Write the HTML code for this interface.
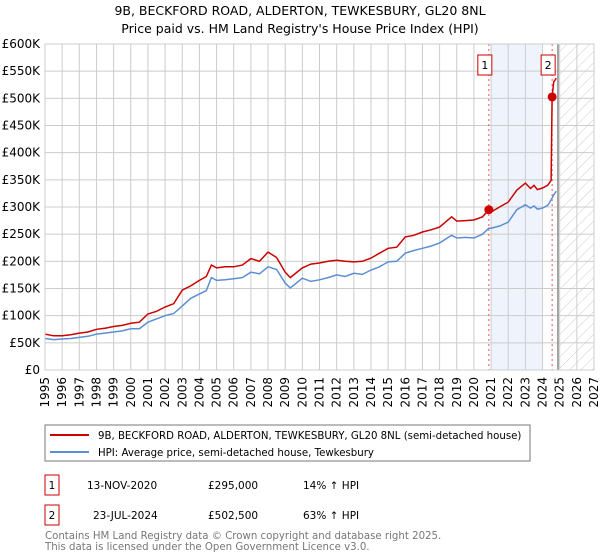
<!DOCTYPE html>
<html><head><meta charset="utf-8">
<style>
body{margin:0;background:#fff;font-family:"DejaVu Sans","Liberation Sans",sans-serif;}
#wrap{position:relative;width:600px;height:560px;overflow:hidden;}
svg text{font-family:"DejaVu Sans","Liberation Sans",sans-serif;}
</style></head>
<body><div id="wrap">
<svg id="chart" width="600" height="560">
<defs><pattern id="hatch" width="8" height="8" patternUnits="userSpaceOnUse" patternTransform="rotate(45)"><line x1="0" y1="0" x2="0" y2="8" stroke="#ccc" stroke-width="1"/></pattern></defs>
<text x="300" y="15" text-anchor="middle" font-size="12.5">9B, BECKFORD ROAD, ALDERTON, TEWKESBURY, GL20 8NL</text>
<text x="300" y="33" text-anchor="middle" font-size="12.5">Price paid vs. HM Land Registry's House Price Index (HPI)</text>
<g id="grid"></g><g id="plot"></g><g id="axes"></g>
<rect x="45" y="425" width="485" height="36" fill="#fff" stroke="#777"/>
<line x1="50" y1="435" x2="89" y2="435" stroke="#cc0000" stroke-width="2"/>
<text x="98" y="439" font-size="10.2">9B, BECKFORD ROAD, ALDERTON, TEWKESBURY, GL20 8NL (semi-detached house)</text>
<line x1="50" y1="452" x2="89" y2="452" stroke="#5b8fd4" stroke-width="2"/>
<text x="98" y="456" font-size="10.2">HPI: Average price, semi-detached house, Tewkesbury</text>
<g>
<rect x="45" y="475" width="14" height="20" fill="none" stroke="#cc0000"/><text x="52" y="489" text-anchor="middle" font-size="10.5">1</text>
<text x="87" y="489" font-size="10.5">13-NOV-2020</text><text x="208" y="489" font-size="10.5">£295,000</text><text x="303" y="489" font-size="10.5">14% ↑ HPI</text></g>
<g>
<rect x="45" y="505" width="14" height="20" fill="none" stroke="#cc0000"/><text x="52" y="519" text-anchor="middle" font-size="10.5">2</text>
<text x="93" y="519" font-size="10.5">23-JUL-2024</text><text x="208" y="519" font-size="10.5">£502,500</text><text x="303" y="519" font-size="10.5">63% ↑ HPI</text></g>
<text x="45" y="539" font-size="10.2" fill="#777">Contains HM Land Registry data © Crown copyright and database right 2025.</text>
<text x="45" y="550" font-size="10.2" fill="#777">This data is licensed under the Open Government Licence v3.0.</text>
</svg>
<script>
const years=[1995,1995.5,1996,1996.5,1997,1997.5,1998,1998.5,1999,1999.5,2000,2000.5,2001,2001.5,2002,2002.5,2003,2003.5,2004,2004.4,2004.7,2005,2005.5,2006,2006.5,2007,2007.5,2008,2008.5,2009,2009.3,2010,2010.5,2011,2011.5,2012,2012.5,2013,2013.5,2014,2014.5,2015,2015.5,2016,2016.5,2017,2017.5,2018,2018.7,2019,2019.5,2020,2020.5,2020.87,2021,2021.5,2022,2022.5,2023,2023.3,2023.5,2023.7,2024,2024.3,2024.5];
const hpi=[58,56,57,58,60,62,66,68,70,72,76,76,88,94,100,104,118,132,140,146,170,165,166,168,170,180,177,190,185,160,151,169,163,166,170,175,172,178,176,184,190,199,200,215,220,224,228,234,248,243,244,243,250,261,261,265,272,295,304,298,302,296,298,303,313];
const red=[66,63,63,65,68,70,75,77,80,82,86,88,103,108,116,122,147,155,165,172,193,188,190,190,193,205,200,217,207,180,170,188,195,197,200,202,200,199,200,206,215,224,226,245,248,254,258,263,282,274,275,276,282,295,291,300,309,331,344,334,340,332,335,340,349];
const saleYears=[2020.87,2024.56];
const saleValues=[295,502.5];
const redTailYears=[2024.56,2024.65,2024.8];
const redTailValues=[502.5,530,537];
const hpiTailYears=[2024.5,2024.65,2024.8];
const hpiTailValues=[313,322,329];
const yTicks=[0,50,100,150,200,250,300,350,400,450,500,550,600];
const yTickLabels=["£0","£50K","£100K","£150K","£200K","£250K","£300K","£350K","£400K","£450K","£500K","£550K","£600K"];
const xTicks=[1995,1996,1997,1998,1999,2000,2001,2002,2003,2004,2005,2006,2007,2008,2009,2010,2011,2012,2013,2014,2015,2016,2017,2018,2019,2020,2021,2022,2023,2024,2025,2026,2027];

const X0=45,X1=594,Y0=370,Y1=44;
const xs=y=>X0+(y-1995)/(2027-1995)*(X1-X0);
const ys=v=>Y0-v/600*(Y0-Y1);
const NS="http://www.w3.org/2000/svg";
function mk(tag,attrs,parent){const e=document.createElementNS(NS,tag);for(const k in attrs)e.setAttribute(k,attrs[k]);parent.appendChild(e);return e;}
const grid=document.getElementById('grid'),plot=document.getElementById('plot'),axes=document.getElementById('axes');
let sh=mk('rect',{x:xs(2021),y:Y1,width:xs(2024)-xs(2021),height:Y0-Y1,fill:'#eef3fc'},grid);


let ht=mk('rect',{x:xs(2025),y:Y1,width:X1-xs(2025),height:Y0-Y1,fill:'url(#hatch)'},grid);


yTicks.forEach((v,i)=>{
  let l=mk('line',{x1:X0,x2:X1,y1:ys(v),y2:ys(v),stroke:'#ccc'},grid);
  
  
  let t=mk('text',{x:40,y:ys(v)+4,'text-anchor':'end','font-size':'12'},axes);
  t.textContent=yTickLabels[i];
  
  
});
xTicks.forEach(y=>{
  let l=mk('line',{x1:xs(y),x2:xs(y),y1:Y1,y2:Y0,stroke:'#ccc'},grid);
  
  
  let t=mk('text',{x:0,y:0,'text-anchor':'end','font-size':'12',transform:`translate(${xs(y)+4},377) rotate(-90)`},axes);
  t.textContent=y;
  
  
});
let nl=mk('line',{x1:xs(2024.9),x2:xs(2024.9),y1:Y1,y2:Y0,stroke:'#888','stroke-width':1.5},grid);


saleYears.forEach((y,i)=>{
  let l=mk('line',{x1:xs(y),x2:xs(y),y1:Y1,y2:Y0,stroke:'#e55','stroke-dasharray':'2,3'},grid);
  
  
});
function path(xa,va,color,name){
  let d=xa.map((y,i)=>(i?'L':'M')+xs(y).toFixed(1)+','+ys(va[i]).toFixed(1)).join('');
  let p=mk('path',{d:d,fill:'none',stroke:color,'stroke-width':1.5},plot);
  
  
}
path(years.concat(hpiTailYears.slice(1)),hpi.concat(hpiTailValues.slice(1)),'#5b8fd4','hpi-line');
path(years.concat(redTailYears),red.concat(redTailValues),'#cc0000','property-line');
saleYears.forEach((y,i)=>{
  let c=mk('circle',{cx:xs(y),cy:ys(saleValues[i]),r:4.5,fill:'#cc0000'},plot);
  
  
  let g=mk('g',{},plot);
  
  
  mk('rect',{x:xs(y)-11,y:55,width:14,height:20,fill:'#fff',stroke:'#cc0000'},g);
  let t=mk('text',{x:xs(y)-4,y:69,'text-anchor':'middle','font-size':'11'},g);
  t.textContent=String(i+1);
});
let ax=mk('rect',{x:X0,y:Y1,width:X1-X0,height:Y0-Y1,fill:'none',stroke:'#ccc'},axes);


</script>
</div></body></html>
